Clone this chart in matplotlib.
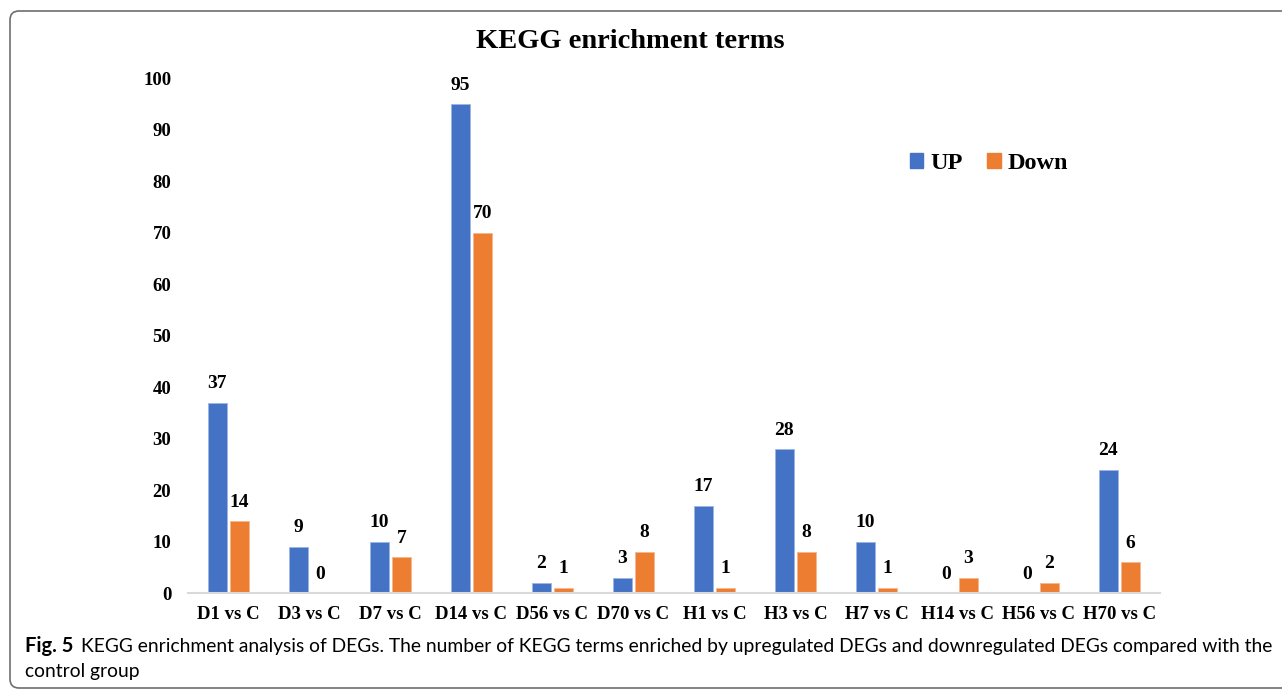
import numpy as np
import matplotlib
matplotlib.use("Agg")
import matplotlib.pyplot as plt
from matplotlib.patches import FancyBboxPatch, Patch
from matplotlib.transforms import IdentityTransform

# KEGG terms per comparison
groups = ["D1 vs C", "D3 vs C", "D7 vs C", "D14 vs C", "D56 vs C", "D70 vs C",
          "H1 vs C", "H3 vs C", "H7 vs C", "H14 vs C", "H56 vs C", "H70 vs C"]
up = [37, 9, 10, 95, 2, 3, 17, 28, 10, 0, 0, 24]
down = [14, 0, 7, 70, 1, 8, 1, 8, 1, 3, 2, 6]
yticks = list(range(0, 101, 10))

BLUE = "#4472C4"
ORANGE = "#ED7D31"
SERIF = "Liberation Serif"
H = 689

fig = plt.figure(figsize=(12.82, 6.89), dpi=100)
ax = fig.add_axes([0.1466, 0.1393, 0.7582, 0.7467])

x = np.arange(len(groups))
w = 0.228
off = 0.136
b1 = ax.bar(x - off, up, w, color=BLUE, edgecolor="#9DB5E3", linewidth=0.6)
b2 = ax.bar(x + off, down, w, color=ORANGE, edgecolor="#F5B78C", linewidth=0.6)

for bars, vals in ((b1, up), (b2, down)):
    for r, v in zip(bars, vals):
        ax.annotate(str(v), (r.get_x() + r.get_width() / 2, v),
                    xytext=(0, 7.5), textcoords="offset points",
                    ha="center", va="bottom", fontsize=14,
                    fontweight="bold", family=SERIF)

ax.set_xlim(-0.5, len(groups) - 0.5)
ax.set_ylim(0, 100)
ax.set_yticks(yticks)
ax.set_yticklabels([str(t) for t in yticks], fontsize=13.5,
                   fontweight="bold", family=SERIF)
ax.set_xticks(x)
ax.set_xticklabels(groups, fontsize=13.5, fontweight="bold", family=SERIF)
ax.tick_params(axis="y", length=0, pad=12)
ax.tick_params(axis="x", length=0, pad=9.5)
for s in ("top", "right", "left"):
    ax.spines[s].set_visible(False)
ax.spines["bottom"].set_color("#D9D9D9")
ax.spines["bottom"].set_linewidth(1.5)

fig.text(0.4915, 1 - 42 / H, "KEGG enrichment terms", ha="center",
         va="center", fontsize=20.5, fontweight="bold", family=SERIF)

handles = [Patch(color=BLUE, label="UP"), Patch(color=ORANGE, label="Down")]
fig.legend(handles=handles, loc="center", bbox_to_anchor=(0.7715, 0.763),
           ncol=2, frameon=False, handlelength=0.55, handleheight=0.55,
           handletextpad=0.3, columnspacing=1.0,
           prop={"family": SERIF, "weight": "bold", "size": 17.5})

# caption below the chart
fig.text(25 / 1282, 1 - 652 / H, "Fig. 5", ha="left", va="baseline",
         fontsize=14.5, fontweight="bold", family="Lato")
fig.text(81 / 1282, 1 - 652 / H,
         "KEGG enrichment analysis of DEGs. The number of KEGG terms enriched by "
         "upregulated DEGs and downregulated DEGs compared with the",
         ha="left", va="baseline", fontsize=13.9, family="Lato")
fig.text(25 / 1282, 1 - 677 / H, "control group", ha="left", va="baseline",
         fontsize=13.9, family="Lato")

# rounded frame, open on the right
frame = FancyBboxPatch((10, 1), 1400, 677, boxstyle="round,pad=0,rounding_size=9",
                       transform=IdentityTransform(), facecolor="none",
                       edgecolor="#6E6E6E", linewidth=1.2, clip_on=False)
fig.add_artist(frame)

fig.savefig("out.png", dpi=100)
